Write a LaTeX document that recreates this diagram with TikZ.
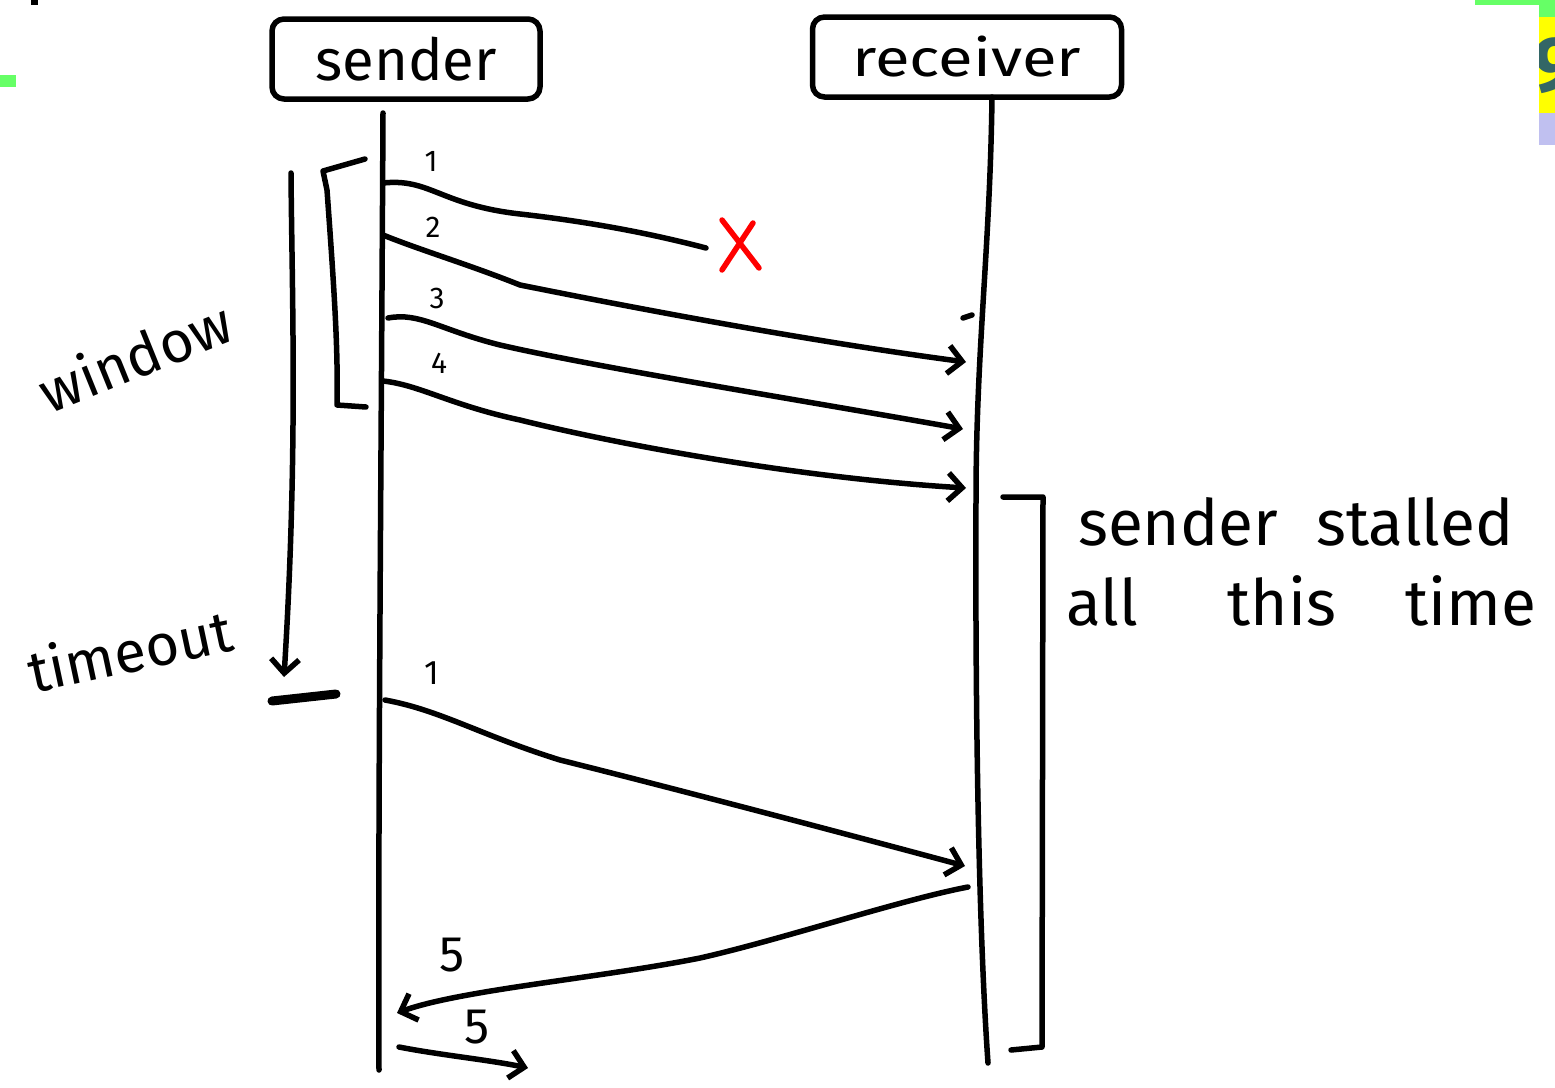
\documentclass[tikz,border=0pt]{standalone}
\usepackage{fontspec}
\setmainfont{Fira Sans}
\usetikzlibrary{arrows.meta}
\definecolor{hlgreen}{RGB}{102,255,102}
\definecolor{hlyellow}{RGB}{255,255,0}
\definecolor{hllav}{RGB}{192,192,240}
\definecolor{hlteal}{RGB}{51,102,102}
\definecolor{xred}{RGB}{255,0,0}
\begin{document}
\begin{tikzpicture}[x=1pt,y=-1pt,
  ink/.style={line width=5.5pt, line cap=round, line join=round},
  msg/.style={ink, -{Straight Barb[length=14pt,width=28pt]}},
  box/.style={ink, draw, rounded corners=12pt, inner sep=0pt},
  lbl/.style={font=\fontsize{30}{36}\selectfont, inner sep=0pt},
  big/.style={font=\fontsize{58}{64}\selectfont, inner sep=0pt},
  note/.style={font=\fontsize{64}{70}\selectfont, inner sep=0pt, anchor=base west}]
\useasboundingbox (0,0) rectangle (1555,1087);
\fill[white] (0,0) rectangle (1555,1087);

% edge fragments
\fill[black] (31,0) rectangle (38,5);
\fill[hlgreen] (0,75) rectangle (16,87);
\fill[hlgreen] (1475,0) rectangle (1555,5);
\fill[hlgreen] (1539,0) rectangle (1555,17);
\fill[hlyellow] (1539,17) rectangle (1555,113);
\fill[hllav] (1539,113) rectangle (1555,145);
\begin{scope}
  \clip (1539,17) rectangle (1555,113);
  \node[font=\bfseries\fontsize{78}{78}\selectfont, text=hlteal, anchor=west, inner sep=0pt] (nine) at (1533,66) {9};
\end{scope}

% participants
\node[box, minimum width=268pt, minimum height=80pt] (sender) at (406,59) {\fontsize{58}{64}\selectfont sender};
\node[box, minimum width=309pt, minimum height=80pt] (receiver) at (967,57) {\fontsize{52}{60}\selectfont\scalebox{1.22}[1]{receiver}};

% lifelines
\coordinate (sTop) at (383,113);
\coordinate (sBot) at (379,1070);
\coordinate (rTop) at (992,97);
\coordinate (rMid) at (976,500);
\coordinate (rBot) at (988,1063);
\draw[ink] (sTop) .. controls (381,500) and (378,800) .. (sBot);
\draw[ink] (rTop) .. controls (990,250) and (976,350) .. (rMid) .. controls (975,750) and (980,950) .. (rBot);
\draw[ink] (963,318) -- (972,315);

% window bracket and timeout arrow
\draw[ink] (365,159) -- (323,171) -- (327,190) .. controls (335,300) and (338,350) .. (337,405) -- (366,407);
\coordinate (tA) at (291,173);
\coordinate (tB) at (284,677);
\draw[msg] (tA) .. controls (292,300) and (298,450) .. (tB);
\draw[line width=9pt, line cap=round] (272,701) -- (336,694);
\node[big, rotate=22] (window) at (135,356) {window};
\node[big, rotate=12] (timeout) at (130,650) {timeout};

% messages
\coordinate (m1s) at (383,183); \coordinate (m1e) at (706,248);
\draw[ink] (m1s) .. controls (430,178) and (440,205) .. (520,214) .. controls (600,223) and (660,236) .. (m1e);
\draw[ink, xred] (722,220) -- (759,268) (753,223) -- (722,270);

\coordinate (m2s) at (383,235); \coordinate (m2e) at (966,362);
\draw[msg] (m2s) .. controls (420,250) and (470,265) .. (520,285) .. controls (620,305) and (800,340) .. (m2e);

\coordinate (m3s) at (388,318); \coordinate (m3e) at (963,429);
\draw[msg] (m3s) .. controls (420,312) and (440,330) .. (500,345) .. controls (600,368) and (800,400) .. (m3e);

\coordinate (m4s) at (383,381); \coordinate (m4e) at (966,488);
\draw[msg] (m4s) .. controls (420,385) and (450,405) .. (520,420) .. controls (620,445) and (800,478) .. (m4e);

\coordinate (m5s) at (385,700); \coordinate (m5e) at (965,866);
\draw[msg] (m5s) .. controls (440,710) and (480,735) .. (560,760) .. controls (680,790) and (850,835) .. (m5e);

\coordinate (a5s) at (968,887); \coordinate (a5e) at (397,1013);
\draw[msg] (a5s) .. controls (900,900) and (780,940) .. (700,958) .. controls (600,978) and (460,990) .. (a5e);

\coordinate (n5s) at (399,1047); \coordinate (n5e) at (528,1068);
\draw[msg] (n5s) .. controls (440,1055) and (490,1060) .. (n5e);

% sequence numbers
\node[lbl] (n1) at (431,161) {1};
\node[lbl] (n2) at (433,227) {2};
\node[lbl] (n3) at (437,298) {3};
\node[lbl] (n4) at (439,363) {4};
\node[lbl, font=\fontsize{34}{40}\selectfont] (n1b) at (432,673) {1};
\node[lbl, font=\fontsize{50}{56}\selectfont] (n5a) at (452,955) {5};
\node[lbl, font=\fontsize{50}{56}\selectfont] (n5b) at (477,1027) {5};

% stall bracket and note
\draw[ink] (1003,497) -- (1043,497) -- (1042,1047) -- (1011,1050);
\node[note] (stall1) at (1078,545) {sender\hspace{38pt}stalled};
\node[note] (stall2) at (1066,625) {all\hspace{90pt}this\hspace{69pt}time};
\end{tikzpicture}
\end{document}
